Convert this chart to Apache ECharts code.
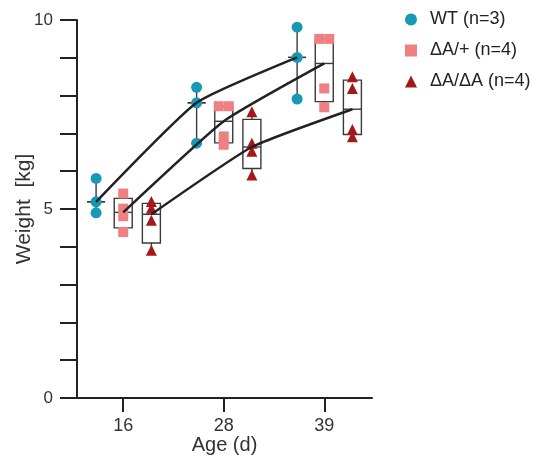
<!DOCTYPE html>
<html>
<head>
<meta charset="utf-8">
<script src="https://cdn.jsdelivr.net/npm/echarts@6/dist/echarts.min.js"></script>
<style>
  html, body { margin: 0; padding: 0; background: #fff; }
  #chart { width: 537px; height: 457px; }
</style>
</head>
<body>
<div id="chart"></div>
<script>
// ages (category labels)
const ages = ['16', '28', '39'];
const groupNames = ['WT (n=3)', 'ΔA/+ (n=4)', 'ΔA/ΔA (n=4)'];

// individual weights [kg] per age
const wtValues = [[5.81, 5.19, 4.90], [8.22, 7.81, 6.74], [9.81, 9.01, 7.91]];
const hetValues = [[5.41, 5.01, 4.81, 4.39], [7.72, 7.72, 6.92, 6.70], [9.50, 9.50, 8.19, 7.69]];
const homValues = [[5.20, 5.02, 4.70, 3.91], [7.57, 6.74, 6.53, 5.90], [8.50, 8.19, 7.10, 6.91]];

// box stats per age: [min, q1, median, q3, max]
const wtBox = [[4.90, 5.19, 5.19, 5.19, 5.81], [6.74, 7.81, 7.81, 7.81, 8.22], [7.91, 9.01, 9.01, 9.01, 9.81]];
const hetBox = [[4.39, 4.50, 4.91, 5.28, 5.41], [6.70, 6.75, 7.32, 7.72, 7.72], [7.69, 7.84, 8.85, 9.50, 9.50]];
const homBox = [[3.91, 4.10, 4.86, 5.15, 5.20], [5.90, 6.07, 6.64, 7.37, 7.57], [6.91, 6.97, 7.64, 8.41, 8.50]];

const colors = ['#1799b5', '#f07f82', '#a5181a'];
const symbols = ['circle', 'rect', 'triangle'];
const symbolSizes = [11, 10, 11];
const offsets = [-0.27, 0, 0.28];   // horizontal place of each group around the age tick
const tieSpread = 0.05;

const chart = echarts.init(document.getElementById('chart'));

function scatterData(values, off) {
    const out = [];
    values.forEach(function (vals, i) {
        vals.forEach(function (v, j) {
            const same = vals.filter(function (w) { return w === v; }).length;
            let dx = 0;
            if (same > 1) {
                const k = vals.slice(0, j).filter(function (w) { return w === v; }).length;
                dx = (k - (same - 1) / 2) * 2 * tieSpread;
            }
            out.push([i + off + dx, v]);
        });
    });
    return out;
}

function boxData(stats, off) {
    return stats.map(function (s, i) { return [i + off].concat(s); });
}

function renderBox(params, api) {
    const x = api.value(0);
    const pMin = api.coord([x, api.value(1)]);
    const pQ1 = api.coord([x, api.value(2)]);
    const pMed = api.coord([x, api.value(3)]);
    const pQ3 = api.coord([x, api.value(4)]);
    const pMax = api.coord([x, api.value(5)]);
    const hw = 9;
    const style = { stroke: '#3a3a3a', lineWidth: 1.4, fill: null };
    return {
        type: 'group',
        children: [
            { type: 'line', shape: { x1: pMin[0], y1: pMin[1], x2: pQ1[0], y2: pQ1[1] }, style: style },
            { type: 'line', shape: { x1: pQ3[0], y1: pQ3[1], x2: pMax[0], y2: pMax[1] }, style: style },
            { type: 'rect', shape: { x: pQ3[0] - hw, y: pQ3[1], width: hw * 2, height: pQ1[1] - pQ3[1] }, style: style },
            { type: 'line', shape: { x1: pMed[0] - hw, y1: pMed[1], x2: pMed[0] + hw, y2: pMed[1] }, style: style }
        ]
    };
}

const allValues = [wtValues, hetValues, homValues];
const allBoxes = [wtBox, hetBox, homBox];

const series = [];
allBoxes.forEach(function (b, g) {
    series.push({
        type: 'custom',
        renderItem: renderBox,
        data: boxData(b, offsets[g]),
        z: 2,
        silent: true
    });
});
allValues.forEach(function (vals, g) {
    series.push({
        name: groupNames[g],
        type: 'scatter',
        symbol: symbols[g],
        symbolSize: symbolSizes[g],
        itemStyle: { color: colors[g], opacity: 1 },
        data: scatterData(vals, offsets[g]),
        z: 3
    });
});
allBoxes.forEach(function (b, g) {
    series.push({
        type: 'line',
        data: b.map(function (s, i) { return [i + offsets[g], s[2]]; }),
        symbol: 'none',
        smooth: 0.15,
        lineStyle: { color: '#222', width: 2.5 },
        z: 4,
        silent: true
    });
});

chart.setOption({
    backgroundColor: '#fff',
    animation: false,
    textStyle: { fontFamily: 'Liberation Sans, Arial, sans-serif' },
    grid: { left: 77, right: 165, top: 20, bottom: 59, containLabel: false, outerBoundsMode: 'none' },
    legend: {
        data: groupNames,
        orient: 'vertical',
        left: 400,
        top: 4,
        itemWidth: 12,
        itemHeight: 12,
        itemGap: 10,
        textStyle: { fontSize: 18, color: '#222', lineHeight: 21, padding: [0, 0, 0, 8] }
    },
    xAxis: {
        type: 'value',
        min: -0.46,
        max: 2.475,
        name: 'Age (d)',
        nameLocation: 'middle',
        nameGap: 37,
        nameMoveOverlap: false,
        nameTextStyle: { fontSize: 20, color: '#333' },
        splitLine: { show: false },
        axisLine: { show: true, onZero: false, lineStyle: { color: '#222', width: 2 } },
        axisTick: { show: true, length: 14, customValues: [0, 1, 2], lineStyle: { color: '#222', width: 2 } },
        axisLabel: {
            customValues: [0, 1, 2],
            formatter: function (v) { return ages[Math.round(v)]; },
            fontSize: 18,
            color: '#333',
            margin: 19
        }
    },
    yAxis: {
        type: 'value',
        min: 0,
        max: 10,
        interval: 1,
        name: 'Weight  [kg]',
        nameLocation: 'middle',
        nameGap: 42,
        nameMoveOverlap: false,
        nameTextStyle: { fontSize: 21, color: '#333' },
        splitLine: { show: false },
        axisLine: { show: true, onZero: false, lineStyle: { color: '#222', width: 2 } },
        axisTick: { show: true, length: 17, lineStyle: { color: '#222', width: 2 } },
        axisLabel: {
            formatter: function (v) { return v % 5 === 0 ? String(v) : ''; },
            fontSize: 17,
            color: '#333',
            margin: 24
        }
    },
    series: series
});
</script>
</body>
</html>
